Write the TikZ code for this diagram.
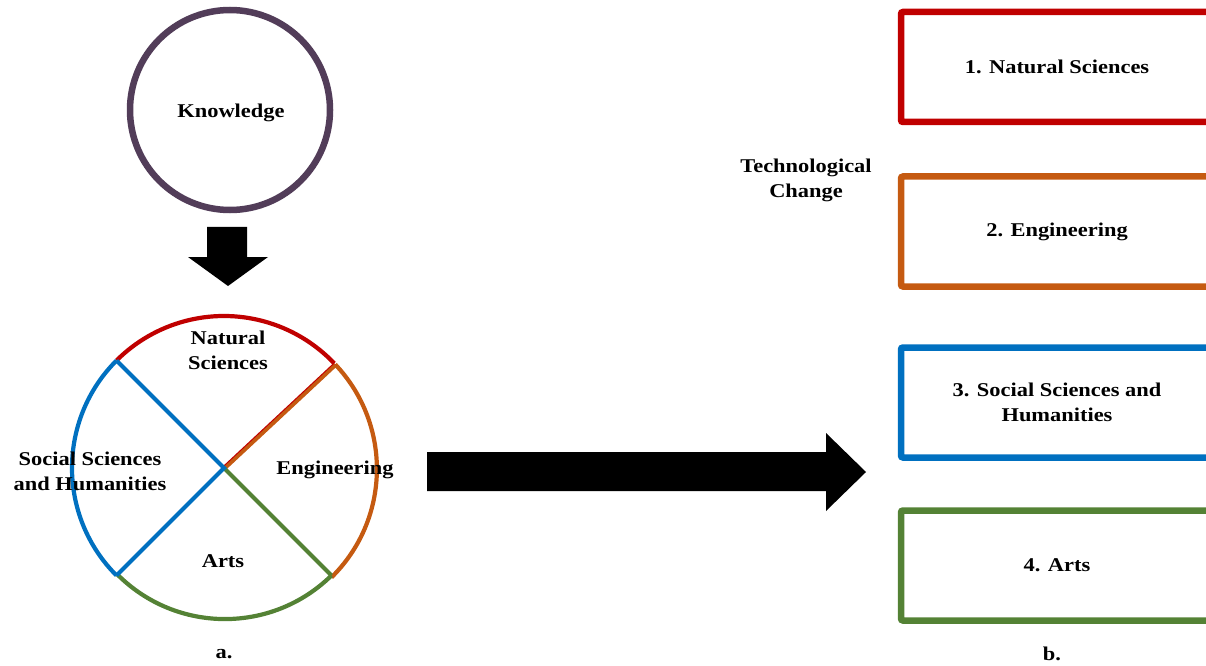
\documentclass[tikz,border=0pt]{standalone}
\usepackage{fontspec}
\setmainfont{Liberation Serif}[FakeStretch=1.15]
\definecolor{cred}{RGB}{192,0,0}
\definecolor{corange}{RGB}{197,90,17}
\definecolor{cblue}{RGB}{0,112,192}
\definecolor{cgreen}{RGB}{84,130,53}
\definecolor{cpurple}{RGB}{82,61,89}
\tikzset{
  lab/.style={inner sep=0pt, align=center, font=\fontsize{19.5}{25}\selectfont\bfseries},
  catbox/.style={draw, line width=6.5pt, rounded corners=2pt, minimum width=312pt, minimum height=110pt, inner sep=0pt, align=center, font=\fontsize{19.5}{25}\selectfont\bfseries},
  pieline/.style={line width=4.2pt},
  blockarrow/.style={fill=black}
}
\begin{document}
\begin{tikzpicture}[x=1pt,y=1pt]
\useasboundingbox (0,0) rectangle (1206,665);
\clip (0,0) rectangle (1206,665);
% Knowledge circle
\node[circle, draw=cpurple, line width=6.5pt, minimum size=200pt, inner sep=0pt] (know) at (230,555) {};
\node[lab] (knowt) at (231,552) {Knowledge};
% down arrow
\coordinate (dtip) at (228,379);
\fill[blockarrow] (207,438) -- (247,438) -- (247,408) -- (268,408) -- (dtip) -- (188,408) -- (207,408) -- cycle;
% pie circle
\node[circle, minimum size=304pt, inner sep=0pt, outer sep=0pt] (pie) at (224,197) {};
\draw[pieline, cred] (pie.135) arc[start angle=135, end angle=43.5, radius=152pt];
\draw[pieline, corange] (pie.43.5) arc[start angle=43.5, end angle=-45.5, radius=152pt];
\draw[pieline, cgreen] (pie.-45.5) arc[start angle=-45.5, end angle=-135, radius=152pt];
\draw[pieline, cblue] (pie.-135) arc[start angle=-135, end angle=-225, radius=152pt];
\draw[pieline, cred] (pie.center) -- (pie.43.5);
\draw[line width=3.6pt, corange] ([shift={(0.6,-0.6)}]pie.center) -- ([shift={(0.6,-0.6)}]pie.43.5);
\draw[pieline, cgreen] (pie.center) -- (pie.-45.5);
\draw[pieline, cblue, line join=miter] (pie.135) -- (pie.center) -- (pie.-135);
% pie labels
\node[lab] (ns) at (228,315) {Natural\\Sciences};
\node[lab] (ssh) at (90,194) {Social Sciences\\and Humanities};
\node[lab] (eng) at (335,195) {Engineering};
\node[lab] (arts) at (223,104) {Arts};
\node[lab] (la) at (224,11) {a.};
% right arrow
\coordinate (rtip) at (866,193);
\fill[blockarrow] (427,213) -- (826,213) -- (826,232) -- (rtip) -- (826,154) -- (826,174) -- (427,174) -- cycle;
% Technological change
\node[lab] (tc) at (806,485) {Technological\\Change};
% boxes
\node[catbox, draw=cred] (b1) at (1057,598) {1. Natural Sciences};
\node[catbox, draw=corange] (b2) at (1057,433.5) {2. Engineering};
\node[catbox, draw=cblue] (b3) at (1057,262.5) {3. Social Sciences and\\Humanities};
\node[catbox, draw=cgreen] (b4) at (1057,99.5) {4. Arts};
\node[lab] (lb) at (1052,11) {b.};
\end{tikzpicture}
\end{document}
